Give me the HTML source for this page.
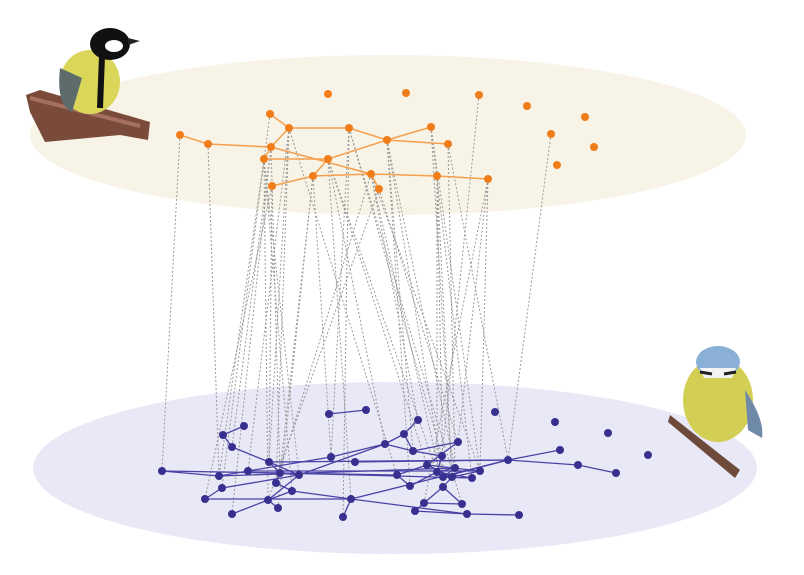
<!DOCTYPE html>
<html><head><meta charset="utf-8"><style>
body{margin:0;background:#fff;width:804px;height:570px;overflow:hidden;font-family:"Liberation Sans",sans-serif}
</style></head><body>
<svg id="chart" width="804" height="570" xmlns="http://www.w3.org/2000/svg">
<ellipse cx="388" cy="135" rx="358" ry="80" fill="#f8f3e7"/>
<ellipse cx="395" cy="468" rx="362" ry="86" fill="#e8e8f6"/>
<g id="links"></g>
<g id="topEdges"></g>
<g id="botEdges"></g>
<g id="topNodes"></g>
<g id="botNodes"></g>
<g>
  <path d="M26 95 L40 90 L150 122 L148 140 L120 135 L45 142 L30 112 Z" fill="#7a4a3a"/>
  <path d="M30 98 L140 126" stroke="#a57060" stroke-width="4"/>
  <ellipse cx="90" cy="82" rx="30" ry="32" fill="#d9d65a"/>
  <ellipse cx="110" cy="44" rx="20" ry="16" fill="#111"/>
  <ellipse cx="114" cy="46" rx="9" ry="6" fill="#fff"/>
  <path d="M102 56 L100 108" stroke="#111" stroke-width="6"/>
  <path d="M60 68 Q56 105 72 112 L82 78 Z" fill="#5d6b6a"/>
  <path d="M128 38 L140 41 L128 45 Z" fill="#222"/>
</g>
<g>
  <path d="M670 415 L740 470 L735 478 L668 422 Z" fill="#6d4a3a"/>
  <ellipse cx="718" cy="400" rx="35" ry="42" fill="#d3cf55"/>
  <ellipse cx="718" cy="362" rx="22" ry="16" fill="#8ab0d8"/>
  <path d="M700 368 L736 368 L732 378 L704 378 Z" fill="#f3f3f3"/>
  <path d="M700 372 L712 374" stroke="#222" stroke-width="3"/>
  <path d="M724 374 L736 372" stroke="#222" stroke-width="3"/>
  <path d="M745 390 Q765 420 762 438 L748 430 Z" fill="#6e8aa8"/>
</g>
</svg>
<script>
const NS='http://www.w3.org/2000/svg';
const topX=[328,406,479,527,585,551,594,557,270,289,349,431,180,208,271,387,448,264,328,313,371,437,488,272,379];
const topY=[94,93,95,106,117,134,147,165,114,128,128,127,135,144,147,140,144,159,159,176,174,176,179,186,189];
const topLinks=[[8,9],[9,10],[10,15],[15,11],[15,16],[12,13],[13,14],[14,9],[14,17],[14,20],[17,18],[18,15],[18,19],[19,20],[20,21],[21,22],[19,23],[20,24]];
const botX=[329,366,495,555,608,648,244,223,232,418,404,385,458,413,560,162,269,331,355,442,508,578,616,219,248,280,299,397,427,437,455,480,472,443,452,276,222,292,410,443,205,268,351,424,462,278,232,343,415,467,519];
const botY=[414,410,412,422,433,455,426,435,447,420,434,444,442,451,450,471,462,457,462,456,460,465,473,476,471,473,475,475,465,472,468,471,478,477,477,483,488,491,486,487,499,500,499,503,504,508,514,517,511,514,515];
const botLinks=[[0,1],[6,7],[7,8],[8,16],[15,23],[16,25],[16,20],[17,11],[11,10],[10,9],[10,13],[11,13],[13,19],[13,12],[12,28],[14,20],[20,21],[21,22],[23,24],[24,17],[23,30],[25,26],[25,35],[26,11],[35,37],[37,41],[41,45],[41,46],[40,36],[36,26],[40,42],[42,47],[42,20],[37,42],[38,27],[38,29],[39,43],[43,44],[39,44],[43,48],[48,49],[49,50],[42,49],[28,31],[29,32],[30,33],[31,34],[28,34],[29,30],[32,33],[19,29],[18,20],[24,31],[27,28],[33,20],[34,39],[25,32],[15,27],[16,26],[26,41]];
const interLinks=[[12,15],[13,23],[8,36],[9,16],[9,24],[9,35],[9,27],[14,8],[14,25],[14,46],[17,37],[17,41],[17,23],[17,26],[10,17],[10,47],[10,19],[18,42],[18,11],[18,29],[18,28],[15,38],[15,30],[15,33],[15,13],[11,31],[11,32],[11,34],[16,20],[16,30],[19,45],[19,25],[20,39],[20,31],[20,9],[21,33],[21,29],[21,34],[22,31],[22,43],[23,40],[23,16],[24,12],[24,41],[2,19],[5,20],[19,17],[20,35],[10,44],[22,12]];
function el(tag,attrs,parent){const e=document.createElementNS(NS,tag);for(const k in attrs)e.setAttribute(k,attrs[k]);document.getElementById(parent).appendChild(e);return e;}
interLinks.forEach(p=>{const e=el('line',{x1:topX[p[0]],y1:topY[p[0]],x2:botX[p[1]],y2:botY[p[1]],stroke:'#9a9a9a','stroke-width':1,'stroke-dasharray':'2,2'},'links');

});
topLinks.forEach(p=>{const e=el('line',{x1:topX[p[0]],y1:topY[p[0]],x2:topX[p[1]],y2:topY[p[1]],stroke:'#f5a04e','stroke-width':1.5},'topEdges');

});
botLinks.forEach(p=>{const e=el('line',{x1:botX[p[0]],y1:botY[p[0]],x2:botX[p[1]],y2:botY[p[1]],stroke:'#4a43a6','stroke-width':1.3},'botEdges');

});
topX.forEach((x,i)=>{const e=el('circle',{cx:x,cy:topY[i],r:4,fill:'#f07d1a'},'topNodes');

});
botX.forEach((x,i)=>{const e=el('circle',{cx:x,cy:botY[i],r:4,fill:'#38308f'},'botNodes');

});
</script>
</body></html>
